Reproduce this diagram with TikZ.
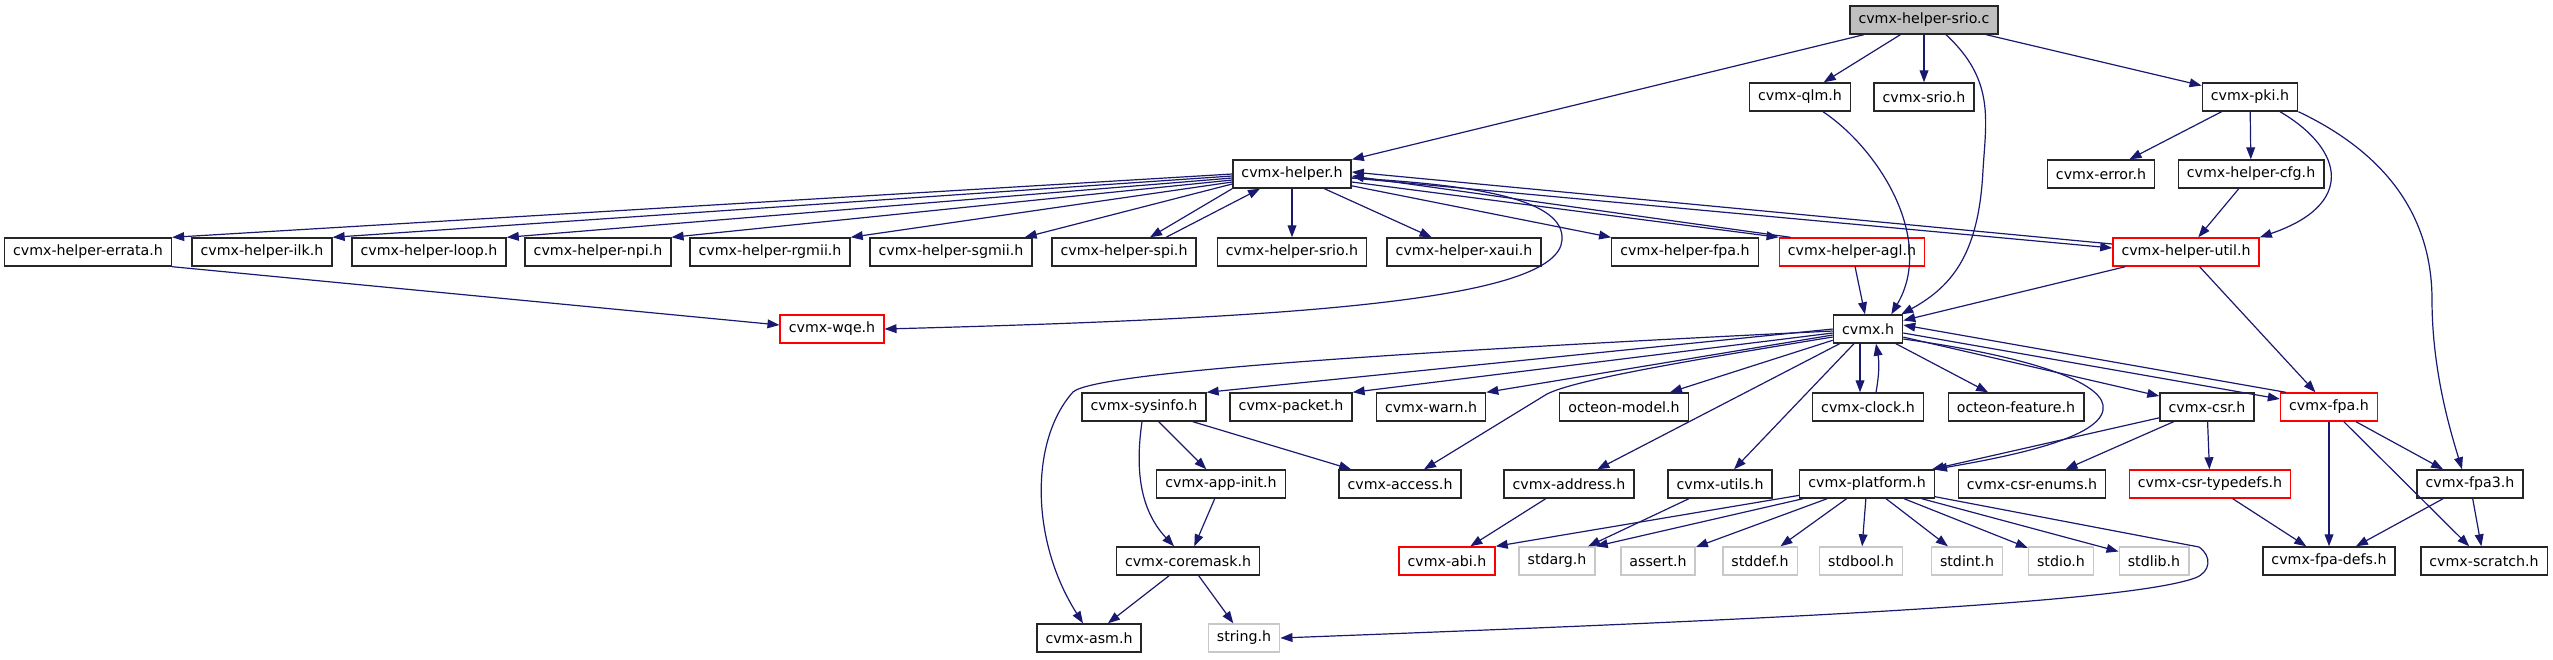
\documentclass[tikz,border=0pt]{standalone}
\usepackage{fontspec}
\usepackage{xcolor}
\usepackage{tikz}
\usetikzlibrary{arrows.meta}
\newfontfamily\dvsans{DejaVu Sans}
\definecolor{edgeblue}{RGB}{25,25,112}
\definecolor{rootgray}{RGB}{191,191,191}
\definecolor{sysgray}{RGB}{200,200,200}

\begin{document}
\begin{tikzpicture}[x=0.5pt, y=-0.5pt,
    hdr/.style={draw=black!85, fill=white, line width=0.7pt, font=\dvsans\fontsize{7.1}{8.5}\selectfont,
                inner xsep=4.3pt, inner ysep=0pt, minimum height=14pt},
    sys/.style={hdr, draw=sysgray}, cut/.style={hdr, draw=red}, src/.style={hdr, fill=rootgray},
    arr/.style={-{Triangle[length=6pt, width=4.4pt]}, edgeblue, line width=0.6pt}]
  \useasboundingbox (0,0) rectangle (2553,659);
  \node[src] (root)    at (1924,20)  {cvmx-helper-srio.c};
  \node[hdr] (qlm)     at (1800,97)  {cvmx-qlm.h};
  \node[hdr] (sriohdr) at (1924,97)  {cvmx-srio.h};
  \node[hdr] (pki)     at (2250,97)  {cvmx-pki.h};
  \node[hdr] (helper)  at (1292,174) {cvmx-helper.h};
  \node[hdr] (errh)    at (2101,174) {cvmx-error.h};
  \node[hdr] (hcfg)    at (2251,174) {cvmx-helper-cfg.h};
  \node[hdr] (errata)  at (88,252)   {cvmx-helper-errata.h};
  \node[hdr] (ilk)     at (262,252)  {cvmx-helper-ilk.h};
  \node[hdr] (loop)    at (429,252)  {cvmx-helper-loop.h};
  \node[hdr] (npi)     at (598,252)  {cvmx-helper-npi.h};
  \node[hdr] (rgmii)   at (770,252)  {cvmx-helper-rgmii.h};
  \node[hdr] (sgmii)   at (951,252)  {cvmx-helper-sgmii.h};
  \node[hdr] (spi)     at (1124,252) {cvmx-helper-spi.h};
  \node[hdr] (hsrio)   at (1292,252) {cvmx-helper-srio.h};
  \node[hdr] (xaui)    at (1464,252) {cvmx-helper-xaui.h};
  \node[hdr] (hfpa)    at (1685,252) {cvmx-helper-fpa.h};
  \node[cut] (agl)     at (1852,252) {cvmx-helper-agl.h};
  \node[cut] (util)    at (2186,252) {cvmx-helper-util.h};
  \node[cut] (wqe)     at (832,329)  {cvmx-wqe.h};
  \node[hdr] (cvmx)    at (1868,329) {cvmx.h};
  \node[hdr] (sysinfo) at (1144,407) {cvmx-sysinfo.h};
  \node[hdr] (packet)  at (1291,407) {cvmx-packet.h};
  \node[hdr] (warn)    at (1431,407) {cvmx-warn.h};
  \node[hdr] (model)   at (1624,407) {octeon-model.h};
  \node[hdr] (clock)   at (1868,407) {cvmx-clock.h};
  \node[hdr] (feature) at (2016,407) {octeon-feature.h};
  \node[hdr] (csr)     at (2207,407) {cvmx-csr.h};
  \node[cut] (fpa)     at (2329,407) {cvmx-fpa.h};
  \node[hdr] (appinit) at (1221,484) {cvmx-app-init.h};
  \node[hdr] (access)  at (1400,484) {cvmx-access.h};
  \node[hdr] (address) at (1569,484) {cvmx-address.h};
  \node[hdr] (utils)   at (1720,484) {cvmx-utils.h};
  \node[hdr] (platform) at (1867,484) {cvmx-platform.h};
  \node[hdr] (enums)   at (2032,484) {cvmx-csr-enums.h};
  \node[cut] (typedefs) at (2210,484) {cvmx-csr-typedefs.h};
  \node[hdr] (fpathree) at (2470,484) {cvmx-fpa3.h};
  \node[hdr] (coremask) at (1188,561) {cvmx-coremask.h};
  \node[cut] (abi)     at (1447,561) {cvmx-abi.h};
  \node[sys] (stdarg)  at (1557,561) {stdarg.h};
  \node[sys] (assert)  at (1658,561) {assert.h};
  \node[sys] (stddef)  at (1760,561) {stddef.h};
  \node[sys] (stdbool) at (1861,561) {stdbool.h};
  \node[sys] (stdint)  at (1967,561) {stdint.h};
  \node[sys] (stdio)   at (2061,561) {stdio.h};
  \node[sys] (stdlib)  at (2154,561) {stdlib.h};
  \node[hdr] (fpadefs) at (2329,561) {cvmx-fpa-defs.h};
  \node[hdr] (scratch) at (2484,561) {cvmx-scratch.h};
  \node[hdr] (asm)     at (1089,638) {cvmx-asm.h};
  \node[sys] (string)  at (1244,638) {string.h};

  \draw[arr] (root) -- (helper); \draw[arr] (root) -- (qlm); \draw[arr] (root) -- (sriohdr); \draw[arr] (root) -- (pki);
  \draw[arr] ([xshift=11pt]root.south) .. controls (1995,80) and (1986,120) .. (1983,170)
             .. controls (1979,250) and (1955,285) .. ([xshift=-1pt]cvmx.north east);
  \draw[arr] ([xshift=11.5pt]qlm.south) .. controls (1880,150) and (1935,240) .. ([xshift=-6pt]cvmx.north east);
  \draw[arr] (pki) -- (errh); \draw[arr] (pki) -- (hcfg); \draw[arr] (hcfg) -- (util);
  \draw[arr] ([xshift=15pt]pki.south) .. controls (2345,150) and (2355,205) .. (util.north east);
  \draw[arr] (pki.south east) .. controls (2400,160) and (2432,230) .. (2432,300)
             .. controls (2432,370) and (2450,430) .. ([xshift=-4pt]fpathree.north);

  \draw[arr] (helper.west) -- (errata.north east);
  \draw[arr] ([yshift=-1pt]helper.west) -- (ilk.north east);
  \draw[arr] ([yshift=-2pt]helper.west) -- (loop.north east);
  \draw[arr] ([yshift=-3pt]helper.west) -- (npi.north east);
  \draw[arr] ([yshift=-4pt]helper.west) -- (rgmii.north east);
  \draw[arr] ([yshift=-5pt]helper.west) -- ([xshift=-4pt]sgmii.north east);
  \draw[arr] (helper.south west) -- ([xshift=13pt]spi.north);
  \draw[arr] ([xshift=21pt]spi.north) -- ([xshift=-16pt]helper.south);
  \draw[arr] (helper) -- (hsrio); \draw[arr] (helper) -- (xaui); \draw[arr] (helper) -- (hfpa);
  \draw[arr] ([yshift=-4pt]helper.east) -- (agl.north west);
  \draw[arr] ([xshift=6pt]agl.north west) -- ([yshift=-1pt]helper.east);
  \draw[arr] ([yshift=-2pt]helper.east) -- ([yshift=2pt]util.west);
  \draw[arr] ([yshift=4pt]util.west) -- ([yshift=1pt]helper.east);
  \draw[arr] ([yshift=-2pt]helper.east) .. controls (1480,185) and (1565,200) .. (1562,240)
             .. controls (1558,300) and (1300,318) .. (wqe.east);
  \draw[arr] (errata.south east) -- ([yshift=2pt]wqe.west);
  \draw[arr] (agl) -- (cvmx); \draw[arr] (util) -- (cvmx); \draw[arr] (util) -- (fpa);

  \draw[arr] (cvmx.west) -- (sysinfo.north east);
  \draw[arr] ([yshift=-1pt]cvmx.west) .. controls (1400,352) and (1095,372) .. (1073,392)
             .. controls (1030,440) and (1030,540) .. ([xshift=-3pt]asm.north);
  \draw[arr] ([yshift=-2pt]cvmx.west) -- (packet.north east);
  \draw[arr] ([yshift=-3pt]cvmx.west) -- (warn.north east);
  \draw[arr] ([yshift=-4pt]cvmx.west) .. controls (1680,362) and (1575,380) .. (1547,394) -- (access);
  \draw[arr] (cvmx) -- (model); \draw[arr] (cvmx) -- (address); \draw[arr] (cvmx) -- (utils);
  \draw[arr] ([xshift=-4pt]cvmx.south) -- ([xshift=-4pt]clock.north);
  \draw[arr] ([xshift=4pt]clock.north) to[bend right=10] ([xshift=4pt]cvmx.south);
  \draw[arr] (cvmx) -- (feature); \draw[arr] (cvmx) -- (csr);
  \draw[arr] ([yshift=-2pt]cvmx.east) -- ([yshift=4pt]fpa.west);
  \draw[arr] ([xshift=3pt]fpa.north west) -- ([yshift=2pt]cvmx.east);
  \draw[arr] ([yshift=-5pt]cvmx.east) .. controls (2040,358) and (2108,385) .. (2103,410)
             .. controls (2098,440) and (2000,458) .. (platform.north east);

  \draw[arr] (csr) -- (platform); \draw[arr] (csr) -- (enums); \draw[arr] (csr) -- (typedefs);
  \draw[arr] (typedefs) -- (fpadefs);
  \draw[arr] (fpa) -- (fpadefs); \draw[arr] (fpa) -- (scratch); \draw[arr] (fpa) -- (fpathree);
  \draw[arr] (fpathree) -- (fpadefs); \draw[arr] (fpathree) -- (scratch);
  \draw[arr] (sysinfo) -- (appinit); \draw[arr] (sysinfo) -- (access);
  \draw[arr] ([xshift=-1pt]sysinfo.south) .. controls (1135,470) and (1140,510) .. ([xshift=-7pt]coremask.north);
  \draw[arr] (appinit) -- (coremask);
  \draw[arr] (coremask) -- (asm); \draw[arr] (coremask) -- (string);
  \draw[arr] (address) -- (abi); \draw[arr] (utils) -- (stdarg);
  \draw[arr] (platform) -- (abi.north east); \draw[arr] (platform) -- (stdarg.north east);
  \draw[arr] (platform) -- (assert); \draw[arr] (platform) -- (stddef); \draw[arr] (platform) -- (stdbool);
  \draw[arr] (platform) -- (stdint); \draw[arr] (platform) -- (stdio); \draw[arr] (platform) -- (stdlib);
  \draw[arr] ([yshift=1pt]platform.south east) -- (2199,547) .. controls (2212,556) and (2211,572) .. (2195,578)
             .. controls (2120,605) and (1700,622) .. (string.east);
\end{tikzpicture}
\end{document}
